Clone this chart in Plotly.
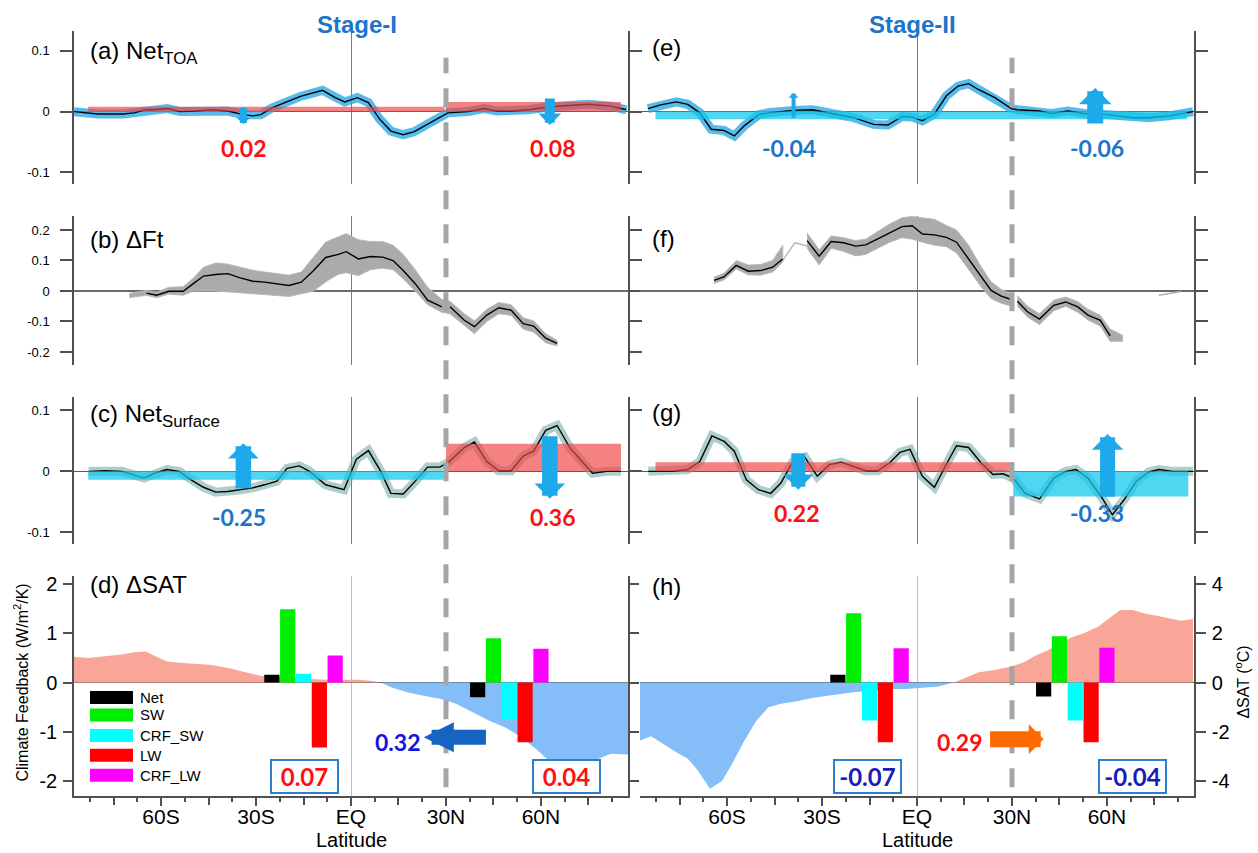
import plotly.graph_objects as go

W, H = 1258, 853

# ---------------- data ----------------
# (a) Net TOA, Stage-I
lat_a = [-87.5, -80, -72, -68.5, -65, -62, -58, -54, -49, -44, -39, -34, -31, -28.5, -25, -21, -16, -9, -5, -2,
         2, 5.5, 9, 12.6, 16.5, 20, 24, 28, 30.6, 37, 42, 46, 51, 56, 63, 69, 75, 82, 87]
toa_a = [0.0, -0.004, -0.004, -0.002, 0.003, 0.003, 0.005, 0.0, 0.001, 0.003, 0.001, -0.005, -0.007, -0.005, 0.006,
         0.015, 0.025, 0.035, 0.023, 0.016, 0.023, 0.015, -0.012, -0.032, -0.038, -0.033, -0.021, -0.01, -0.002,
         0.0, 0.005, 0.001, 0.001, 0.003, 0.008, 0.01, 0.012, 0.009, 0.003]

# (e) Net TOA, Stage-II
lat_e = [-85, -81, -76, -72.4, -68.6, -65, -61, -57.7, -54.5, -50, -47, -39, -33, -26, -20, -13.7, -9.2, -4.7, -1.5,
         1.7, 5.5, 9.3, 13, 16.3, 19.5, 24.6, 29.8, 31.7, 38.7, 42.5, 47.6, 54, 60.4, 68, 73, 79.6, 87.2]
toa_e = [0.005, 0.011, 0.016, 0.012, -0.002, -0.029, -0.031, -0.04, -0.023, -0.005, -0.002, 0.002, 0.003, -0.004,
         -0.01, -0.021, -0.022, -0.008, -0.009, -0.015, -0.004, 0.026, 0.042, 0.046, 0.036, 0.023, 0.005, 0.003,
         0.001, -0.003, 0.001, -0.004, -0.005, -0.01, -0.01, -0.007, 0.0]

# (b) dFt, Stage-I : mean, upper and lower edge of the ensemble
lat_b = [-70, -64.6, -61.4, -57.5, -53, -49.8, -46.6, -42.7, -38.9, -35, -31, -27.3, -23.4, -19.6, -15.7, -11.8, -8,
         -4, -1.5, 2.3, 6.2, 10, 13.3, 16.5, 20.3, 24.2, 28.7, 30, 31.3, 35.8, 39, 42.9, 46.7, 50.6, 54.4, 57.7,
         61.5, 65.1]
ft_b = [None, -0.007, -0.014, -0.001, -0.001, 0.024, 0.049, 0.054, 0.057, 0.043, 0.032, 0.029, 0.024, 0.018, 0.029,
        0.067, 0.11, 0.12, 0.129, 0.105, 0.113, 0.111, 0.1, 0.067, 0.024, -0.03, -0.052, None, -0.052, -0.096,
        -0.117, -0.079, -0.055, -0.063, -0.107, -0.115, -0.155, -0.172]
ft_b_hi = [-0.008, 0.002, -0.004, 0.012, 0.014, 0.042, 0.078, 0.092, 0.088, 0.078, 0.068, 0.062, 0.057, 0.052,
           0.062, 0.112, 0.16, 0.178, 0.188, 0.168, 0.162, 0.162, 0.15, 0.12, 0.07, 0.012, -0.028, -0.032, -0.034,
           -0.075, -0.098, -0.06, -0.038, -0.045, -0.088, -0.098, -0.14, -0.162]
ft_b_lo = [-0.022, -0.014, -0.022, -0.01, -0.014, 0.0, 0.0, 0.0, -0.002, -0.005, -0.01, -0.012, -0.015, -0.018,
           -0.008, 0.0, 0.03, 0.055, 0.06, 0.05, 0.07, 0.075, 0.07, 0.04, 0.0, -0.045, -0.07, -0.072, -0.075,
           -0.112, -0.14, -0.1, -0.075, -0.08, -0.125, -0.135, -0.17, -0.18]

# (f) dFt, Stage-II (None = gap)
lat_f = [-64.1, -61, -57.1, -53.3, -49.4, -45.6, -42.4, -40,
         -34.7, -30.9, -27.1, -23.2, -19.4, -16.2, -12.4, -8.6, -4.7, -1.5, 1.7, 5.5, 9.3, 12.5, 16.3, 20.2, 23.4,
         26.6, 29.8, 30.7,
         31.7, 34.9, 38.7, 43.2, 47, 50.8, 54, 57.9, 61, 64.9]
ft_f = [0.035, 0.046, 0.084, 0.065, 0.067, 0.078, 0.105, None,
        0.165, 0.114, 0.162, 0.158, 0.147, 0.151, 0.171, 0.192, 0.211, 0.214, 0.187, 0.184, 0.176, 0.16, 0.105,
        0.046, 0.002, -0.017, -0.028, None,
        -0.034, -0.068, -0.092, -0.047, -0.036, -0.052, -0.079, -0.096, -0.147, None]
ft_f_hi = [0.045, 0.058, 0.1, 0.085, 0.087, 0.1, 0.15, None,
           0.19, 0.135, 0.18, 0.175, 0.165, 0.17, 0.195, 0.22, 0.24, 0.245, 0.24, 0.235, 0.215, 0.2, 0.15, 0.08,
           0.03, 0.005, -0.01, None,
           -0.015, -0.05, -0.075, -0.03, -0.02, -0.035, -0.06, -0.08, -0.125, -0.145]
ft_f_lo = [0.025, 0.036, 0.072, 0.053, 0.052, 0.062, 0.095, None,
           0.14, 0.085, 0.14, 0.13, 0.115, 0.12, 0.14, 0.16, 0.175, 0.17, 0.16, 0.15, 0.145, 0.125, 0.07, 0.015,
           -0.025, -0.04, -0.05, None,
           -0.05, -0.085, -0.11, -0.065, -0.05, -0.07, -0.095, -0.115, -0.165, -0.165]
lat_f_link = [-42.4, -38.6, -34.7]
ft_f_link = [0.1, 0.158, 0.148]
lat_f_tail = [76.4, 83.4]
ft_f_tail = [-0.014, -0.002]

# (c) Net surface, Stage-I
lat_c = [-82.9, -77.5, -72.3, -65.3, -62, -58.2, -54.3, -50.5, -46.6, -42.7, -38.9, -35, -31.1, -27.3, -23.4, -20.2,
         -16.3, -13.1, -8, -2.2, 1.7, 5.5, 9.4, 12.6, 16.5, 20.3, 24.2, 28, 30.6, 35.8, 39, 42.9, 46.7, 50.6, 54.4,
         57.7, 61.5, 65.1, 69.2, 72.5, 76.3, 80.8, 85.3]
sfc_c = [0.0, 0.001, 0.0, -0.011, -0.003, 0.003, 0.0, -0.014, -0.026, -0.034, -0.033, -0.03, -0.027, -0.022, -0.016,
         0.005, 0.009, 0.0, -0.022, -0.03, 0.02, 0.034, 0.0, -0.036, -0.037, -0.016, 0.007, 0.007, 0.014, 0.039,
         0.048, 0.016, 0.001, 0.001, 0.025, 0.033, 0.067, 0.075, 0.038, 0.019, -0.003, 0.0, 0.0]

# (g) Net surface, Stage-II
lat_g = [-84.9, -77.5, -72.4, -68.6, -64.8, -60.9, -57.7, -53.9, -50.1, -46.2, -43, -39.2, -35.4, -31.5, -27.7,
         -23.9, -20.1, -16.2, -12.4, -8.6, -5.4, -2.2, 1.7, 5.5, 9.3, 12.5, 16.3, 20.2, 24, 27.2, 30.4, 34.2, 38.7,
         43.2, 47, 50.2, 54, 58.5, 61.7, 65.5, 69.3, 73.2, 76.4, 80.8, 87.2]
sfc_g = [0.0, 0.0, 0.003, 0.016, 0.058, 0.049, 0.033, -0.014, -0.03, -0.036, -0.019, 0.016, 0.023, -0.008, 0.011,
         0.015, 0.008, 0.001, 0.001, 0.014, 0.031, 0.036, -0.008, -0.026, 0.012, 0.042, 0.039, 0.014, -0.005,
         -0.004, -0.011, -0.036, -0.045, -0.011, 0.0, 0.003, -0.011, -0.044, -0.071, -0.046, -0.016, -0.001, 0.003,
         0.0, 0.0]

# region means (lat range and value)
reg_a_lo, reg_a_hi, reg_a_val = [-83.0, 30.0], [29.5, 85.3], [0.008, 0.016]
reg_c_lo, reg_c_hi, reg_c_val = [-83.0, 30.0], [29.3, 85.3], [-0.0137, 0.045]
reg_e_lo, reg_e_hi, reg_e_val = [-82.6], [85.3], [-0.0125]
reg_g_lo, reg_g_hi, reg_g_val = [-82.6, 30.4], [30.4, 85.7], [0.0148, -0.041]

# (d) dSAT Stage-I (deg C)
lat_sd = [-87.5, -82.9, -76.2, -72.3, -68.5, -64.9, -61.4, -58.2, -54.3, -49.2, -44, -38.9, -33.7, -28.6, -23.4,
          -18.3, -13.1, -8, -2.2, 2.3, 6.2, 9.4, 12.6, 17.8, 22.9, 28.1, 33.2, 38.4, 43.5, 48.6, 53.8, 59, 64.1,
          67.3, 71.8, 77, 82.1, 87.5]
sat_d = [1.05, 1.0, 1.09, 1.14, 1.23, 1.26, 1.05, 0.86, 0.81, 0.78, 0.72, 0.59, 0.42, 0.28, 0.24, 0.19, 0.15, 0.12,
         0.12, 0.12, 0.08, 0.0, -0.19, -0.39, -0.53, -0.66, -0.86, -1.2, -1.54, -1.81, -2.22, -2.76, -3.36, -3.46,
         -3.36, -3.16, -2.89, -2.92]
# (h) dSAT Stage-II (deg C)
lat_sh = [-87.5, -84, -80.1, -76.2, -72.4, -69.2, -65.4, -61.6, -58.4, -54.5, -50.7, -46.9, -43, -37.9, -32.8,
          -26.4, -20.1, -13.7, -8.6, -3.4, 1.7, 6.8, 10.6, 12.5, 15.7, 19.5, 24.6, 29.8, 33.6, 37.4, 41.2, 45.1,
          48.9, 52.7, 57.2, 60.4, 64.2, 68.1, 71.9, 75.7, 79.6, 83.4, 87.2]
sat_h = [-2.35, -2.18, -2.49, -2.82, -3.09, -3.57, -4.31, -4.0, -3.3, -2.35, -1.54, -1.0, -0.86, -0.76, -0.62, -0.49,
         -0.39, -0.32, -0.26, -0.26, -0.22, -0.16, -0.03, 0.04, 0.22, 0.42, 0.51, 0.65, 0.82, 1.09, 1.3, 1.57, 1.84,
         2.01, 2.27, 2.58, 2.95, 2.95, 2.81, 2.72, 2.62, 2.51, 2.58]

# climate feedbacks (W/m2/K)
fb_names = ["Net", "SW", "CRF_SW", "LW", "CRF_LW"]
fb_lat_S = [-25, -20, -15, -10, -5]
fb_lat_N = [40, 45, 50, 55, 60]
fb_d_S = [0.16, 1.49, 0.18, -1.32, 0.55]
fb_d_N = [-0.3, 0.9, -0.76, -1.21, 0.69]
fb_h_S = [0.16, 1.41, -0.77, -1.21, 0.7]
fb_h_N = [-0.28, 0.94, -0.77, -1.21, 0.71]

xtick_vals = [-60, -30, 0, 30, 60]
xtick_text = ["60S", "30S", "EQ", "30N", "60N"]
xmid_vals = [-75, -45, -15, 15, 45, 75]
xminor_vals = [-82.5, -67.5, -52.5, -37.5, -22.5, -7.5, 7.5, 22.5, 37.5, 52.5, 67.5, 82.5]

# ---------------- styles ----------------
AXC = "#505050"
FONT = "Liberation Sans, Arial, sans-serif"
NUMF = "Lato, Open Sans, sans-serif"
ENS_BLUE = "rgba(45,170,230,0.8)"
ENS_TEAL = "rgba(105,165,160,0.55)"
BAND_GRAY = "#ababab"
RED_BAR = "rgba(240,70,70,0.68)"
CYAN_BAR = "rgba(20,200,235,0.75)"
SALMON = "#f9a597"
SKY = "#84bdf7"
FB_COLORS = ["#000000", "#00ee00", "#00ffff", "#ff0000", "#ff00ff"]
ARR_LB = "#1eaaea"
ARR_DB = "#1565c0"
ARR_OR = "#ff6a00"
TXT_BLUE = "#1b75c9"
TXT_RED = "#ff1010"
TXT_DBLUE = "#1414e0"
TXT_NAVY = "#1a1ab8"

XL = [74 / W, 628 / W]
XR = [640 / W, 1194 / W]
ROWS = {"a": (28, 182), "b": (214, 363), "c": (395, 543), "d": (575, 796)}


def ydom(r):
    t, b = ROWS[r]
    return [1 - b / H, 1 - t / H]


RA = [-0.1197, 0.1328]
RB = [-0.2418, 0.2451]
RC = [-0.119, 0.1223]
RFB = [-2.308, 2.166]
RSAT = [-4.616, 4.332]
RX = [-87.5, 87.5]

fig = go.Figure()


def line(x, y, xa, ya, color, width):
    fig.add_trace(go.Scatter(x=x, y=y, xaxis=xa, yaxis=ya, mode="lines", connectgaps=False,
                             line=dict(color=color, width=width), hoverinfo="skip", showlegend=False))


def regions(lo, hi, val, xa, ya):
    for l, h, v in zip(lo, hi, val):
        fig.add_trace(go.Scatter(x=[l, l, h, h, l], y=[0, v, v, 0, 0], xaxis=xa, yaxis=ya, mode="lines",
                                 fill="toself", fillcolor=RED_BAR if v > 0 else CYAN_BAR,
                                 line=dict(width=0), hoverinfo="skip", showlegend=False))


def band(lat, hi, lo, xa, ya):
    seg = []
    segs = []
    for x, h, l in zip(lat, hi, lo):
        if h is None or l is None:
            if seg:
                segs.append(seg)
            seg = []
        else:
            seg.append((x, h, l))
    if seg:
        segs.append(seg)
    for s in segs:
        xs = [p[0] for p in s] + [p[0] for p in reversed(s)]
        ys = [p[1] for p in s] + [p[2] for p in reversed(s)]
        fig.add_trace(go.Scatter(x=xs, y=ys, xaxis=xa, yaxis=ya, mode="lines", fill="toself",
                                 fillcolor=BAND_GRAY, line=dict(color="#b8b8b8", width=1),
                                 hoverinfo="skip", showlegend=False))


def sat_fill(lat, sat, xa, ya):
    pos = [max(v, 0) for v in sat]
    neg = [min(v, 0) for v in sat]
    for vals, col in ((pos, SALMON), (neg, SKY)):
        fig.add_trace(go.Scatter(x=lat, y=vals, xaxis=xa, yaxis=ya, mode="lines", fill="tozeroy",
                                 fillcolor=col, line=dict(width=0, color=col), hoverinfo="skip",
                                 showlegend=False))


def fb_bars(vs, vn, xa, ya):
    fig.add_trace(go.Bar(x=fb_lat_S + fb_lat_N, y=vs + vn, width=4.8, xaxis=xa, yaxis=ya,
                         marker=dict(color=FB_COLORS + FB_COLORS, line=dict(width=0)),
                         hoverinfo="skip", showlegend=False))


# (a)
line(lat_a, toa_a, "x", "y", ENS_BLUE, 9)
line(lat_a, toa_a, "x", "y", "black", 1.4)
regions(reg_a_lo, reg_a_hi, reg_a_val, "x", "y")
# (b)
band(lat_b, ft_b_hi, ft_b_lo, "x2", "y2")
line(lat_b, ft_b, "x2", "y2", "black", 1.4)
# (c)
line(lat_c, sfc_c, "x3", "y3", ENS_TEAL, 9)
line(lat_c, sfc_c, "x3", "y3", "black", 1.4)
regions(reg_c_lo, reg_c_hi, reg_c_val, "x3", "y3")
# (d)
sat_fill(lat_sd, sat_d, "x4", "y4")
fb_bars(fb_d_S, fb_d_N, "x4", "y9")
# (e)
line(lat_e, toa_e, "x5", "y5", ENS_BLUE, 9)
line(lat_e, toa_e, "x5", "y5", "black", 1.4)
regions(reg_e_lo, reg_e_hi, reg_e_val, "x5", "y5")
# (f)
band(lat_f, ft_f_hi, ft_f_lo, "x6", "y6")
line(lat_f_link, ft_f_link, "x6", "y6", "#b0b0b0", 1.2)
line(lat_f_tail, ft_f_tail, "x6", "y6", "#b0b0b0", 1.5)
line(lat_f, ft_f, "x6", "y6", "black", 1.4)
# (g)
line(lat_g, sfc_g, "x7", "y7", ENS_TEAL, 9)
line(lat_g, sfc_g, "x7", "y7", "black", 1.4)
regions(reg_g_lo, reg_g_hi, reg_g_val, "x7", "y7")
# (h)
sat_fill(lat_sh, sat_h, "x8", "y8")
fb_bars(fb_h_S, fb_h_N, "x8", "y10")
# empty traces so the overlay axes carrying the unlabeled 15-degree ticks get drawn
for xa, ya in (("x9", "y4"), ("x10", "y8")):
    fig.add_trace(go.Scatter(x=[None], y=[None], xaxis=xa, yaxis=ya, mode="markers",
                             hoverinfo="skip", showlegend=False))


# ---------------- axes ----------------
def xax(dom, anchor, bottom=False):
    d = dict(domain=dom, anchor=anchor, range=RX, showgrid=False, fixedrange=True,
             zeroline=True, zerolinecolor="#7a7a7a", zerolinewidth=1)
    if bottom:
        d.update(showline=True, linecolor=AXC, linewidth=1.5, ticks="outside", ticklen=8, tickwidth=1.5,
                 tickcolor=AXC, tickmode="array", tickvals=xtick_vals, ticktext=xtick_text,
                 ticklabelstandoff=-7,
                 tickfont=dict(size=21, family=FONT, color="black"), zerolinecolor="#bdbdbd",
                 minor=dict(tickmode="array", tickvals=xminor_vals, ticks="outside", ticklen=4,
                            tickwidth=1.5, tickcolor=AXC, showgrid=False))
    else:
        d.update(showline=False, showticklabels=False, ticks="")
    return d


def xmid(over, anchor):
    return dict(overlaying=over, anchor=anchor, range=RX, showgrid=False, zeroline=False, fixedrange=True,
                showline=False, showticklabels=False, ticks="outside", ticklen=8, tickwidth=1.5, tickcolor=AXC,
                tickmode="array", tickvals=xmid_vals, side="bottom")


def yax(dom, rng, anchor, vals, left=True, labels=True, size=13, ticklen=12, standoff=8, zc="#5a5a5a", zw=1.3):
    d = dict(domain=dom, range=rng, anchor=anchor, showgrid=False, fixedrange=True,
             showline=True, linecolor=AXC, linewidth=1.5, ticks="outside", ticklen=ticklen, tickwidth=1.5,
             tickcolor=AXC, tickmode="array", tickvals=vals, ticktext=[("%g" % v) for v in vals],
             tickfont=dict(size=size, family=FONT, color="black"), showticklabels=labels,
             ticklabelstandoff=standoff,
             zeroline=True, zerolinecolor=zc, zerolinewidth=zw)
    if left:
        d.update(side="left", mirror="ticks")
    else:
        d.update(side="right")
    return d


tv1 = [-0.1, 0, 0.1]
tv2 = [-0.2, -0.1, 0, 0.1, 0.2]
tvd = [-2, -1, 0, 1, 2]
tvh = [-4, -2, 0, 2, 4]

y9 = yax(ydom("d"), RFB, "x4", tvd, size=20, ticklen=9, standoff=2)
y9.pop("domain")
y9["overlaying"] = "y4"

layout = dict(
    width=W, height=H, margin=dict(l=0, r=0, t=0, b=0), paper_bgcolor="white", plot_bgcolor="rgba(0,0,0,0)",
    showlegend=False, barmode="overlay", font=dict(family=FONT, color="black"),
    xaxis=xax(XL, "y"), xaxis2=xax(XL, "y2"), xaxis3=xax(XL, "y3"), xaxis4=xax(XL, "y4", True),
    xaxis5=xax(XR, "y5"), xaxis6=xax(XR, "y6"), xaxis7=xax(XR, "y7"), xaxis8=xax(XR, "y8", True),
    xaxis9=xmid("x4", "y4"), xaxis10=xmid("x8", "y8"),
    yaxis=yax(ydom("a"), RA, "x", tv1),
    yaxis2=yax(ydom("b"), RB, "x2", tv2, zc="#6a6a6a", zw=2),
    yaxis3=yax(ydom("c"), RC, "x3", tv1),
    yaxis4=dict(domain=ydom("d"), range=RSAT, anchor="x4", visible=False, fixedrange=True),
    yaxis9=y9,
    yaxis5=yax(ydom("a"), RA, "x5", tv1, left=False, labels=False),
    yaxis6=yax(ydom("b"), RB, "x6", tv2, left=False, labels=False, zc="#6a6a6a", zw=2),
    yaxis7=yax(ydom("c"), RC, "x7", tv1, left=False, labels=False),
    yaxis8=yax(ydom("d"), RSAT, "x8", tvh, left=False, size=20, ticklen=10, standoff=2),
    yaxis10=dict(range=RFB, anchor="x8", overlaying="y8", visible=False, fixedrange=True),
)
fig.update_layout(**layout)

# dashed 30N lines
for xa in ("x", "x5"):
    fig.add_shape(type="line", xref=xa, yref="paper", x0=30, x1=30, y0=1 - 787 / H, y1=1 - 55 / H,
                  line=dict(color="#a5a5a5", width=5, dash="19px,15px"), layer="above")

ann = []


def arrow(xa, ya, x0, y0, x1, y1, color, w, size, head):
    ann.append(dict(xref=xa, yref=ya, axref=xa, ayref=ya, x=x1, y=y1, ax=x0, ay=y0, text="",
                    showarrow=True, arrowhead=head, arrowsize=size, arrowwidth=w, arrowcolor=color,
                    standoff=0, startstandoff=0))


def label(xa, ya, x, y, text, color, size=23, box=False, xanchor="center"):
    d = dict(xref=xa, yref=ya, x=x, y=y, text="<b>%s</b>" % text, showarrow=False, xanchor=xanchor,
             yanchor="middle", font=dict(family=NUMF, size=size, color=color))
    if box:
        d.update(bordercolor="#2a7fd0", borderwidth=2, borderpad=1, bgcolor="white", width=63, height=29)
    ann.append(d)


def ptext(xp, yp, text, size=24, color="black", family=FONT, anchor="left", angle=0, bold=False,
          yanchor="middle"):
    ann.append(dict(xref="paper", yref="paper", x=xp / W, y=1 - yp / H, text=("<b>%s</b>" % text) if bold else text,
                    showarrow=False, xanchor=anchor, yanchor=yanchor, textangle=angle,
                    font=dict(size=size, color=color, family=family)))


# vertical arrows
arrow("x", "y", -34, 0.009, -34, -0.021, ARR_LB, 7, 0.33, 1)
arrow("x", "y", 62.8, 0.024, 62.8, -0.022, ARR_LB, 10, 0.38, 1)
arrow("x5", "y5", -39, -0.0125, -39, 0.031, ARR_LB, 4, 0.42, 1)
arrow("x5", "y5", 56.3, -0.022, 56.3, 0.039, ARR_LB, 16, 0.34, 1)
arrow("x3", "y3", -34, -0.03, -34, 0.046, ARR_LB, 15.5, 0.33, 1)
arrow("x3", "y3", 62.8, 0.06, 62.8, -0.045, ARR_LB, 15.5, 0.33, 1)
arrow("x7", "y7", -37.5, 0.032, -37.5, -0.03, ARR_LB, 14, 0.36, 1)
arrow("x7", "y7", 60.2, -0.044, 60.2, 0.061, ARR_LB, 15, 0.35, 1)
# horizontal transport arrows
arrow("x2", "y2", 23, 0.255, 40.6, 0.255, ARR_OR, 14, 0.3, 1)
arrow("x6", "y6", 38.6, 0.265, 20.7, 0.265, ARR_DB, 15, 0.4, 2)
arrow("x4", "y9", 43.1, -1.11, 23, -1.11, ARR_DB, 15, 0.4, 2)
arrow("x8", "y10", 22.6, -1.15, 40, -1.15, ARR_OR, 16, 0.31, 1)

# value labels
label("x", "y", -34, -0.06, "0.02", TXT_RED)
label("x", "y", 63.6, -0.06, "0.08", TXT_RED)
label("x5", "y5", -40.4, -0.06, "-0.04", TXT_BLUE)
label("x5", "y5", 56.8, -0.06, "-0.06", TXT_BLUE)
label("x3", "y3", -35.3, -0.074, "-0.25", TXT_BLUE)
label("x3", "y3", 63.6, -0.074, "0.36", TXT_RED)
label("x7", "y7", -38.2, -0.068, "0.22", TXT_RED)
label("x7", "y7", 56.8, -0.068, "-0.33", TXT_BLUE)
label("x2", "y2", 51.3, 0.25, "0.26", TXT_RED)
label("x6", "y6", 48.1, 0.25, "0.26", TXT_DBLUE)
label("x4", "y9", 14.8, -1.21, "0.32", TXT_DBLUE)
label("x8", "y10", 13.4, -1.21, "0.29", TXT_RED)
label("x4", "y9", -14.8, -1.9, "0.07", TXT_RED, 24, True)
label("x4", "y9", 68.2, -1.9, "0.04", TXT_RED, 24, True)
label("x8", "y10", -15.5, -1.9, "-0.07", TXT_NAVY, 24, True)
label("x8", "y10", 68, -1.9, "-0.04", TXT_NAVY, 24, True)

# titles and panel labels
ptext(357, 22, "Stage-I", 24, TXT_BLUE, "Liberation Sans Narrow, Liberation Sans, Arial", "center", bold=True)
ptext(912, 22, "Stage-II", 24, TXT_BLUE, "Liberation Sans Narrow, Liberation Sans, Arial", "center", bold=True)
ptext(88, 50, "(a) Net<sub>TOA</sub>")
ptext(88, 237, "(b) \u0394Ft")
ptext(88, 414, "(c) Net<sub>Surface</sub>")
ptext(88, 584, "(d) \u0394SAT")
ptext(650, 45, "(e)")
ptext(650, 236, "(f)")
ptext(650, 411, "(g)")
ptext(650, 586, "(h)")
ptext(21, 682, "Climate Feedback (W/m<sup>2</sup>/K)", 16, anchor="center", angle=-90)
ptext(1242, 682, "\u0394SAT (<sup>o</sup>C)", 16, anchor="center", angle=-90)
ptext(351, 853, "Latitude", 20, anchor="center", yanchor="bottom")
ptext(917, 853, "Latitude", 20, anchor="center", yanchor="bottom")

# legend of panel (d)
leg_y = [697, 714.5, 735, 755, 775]
for name, col, yc in zip(fb_names, FB_COLORS, leg_y):
    fig.add_shape(type="rect", xref="paper", yref="paper", x0=90 / W, x1=133 / W,
                  y0=1 - (yc + 6.5) / H, y1=1 - (yc - 6.5) / H, fillcolor=col, line=dict(width=0))
    ptext(138, yc, name, 15)

fig.update_layout(annotations=ann)
fig.write_html("out.html")
